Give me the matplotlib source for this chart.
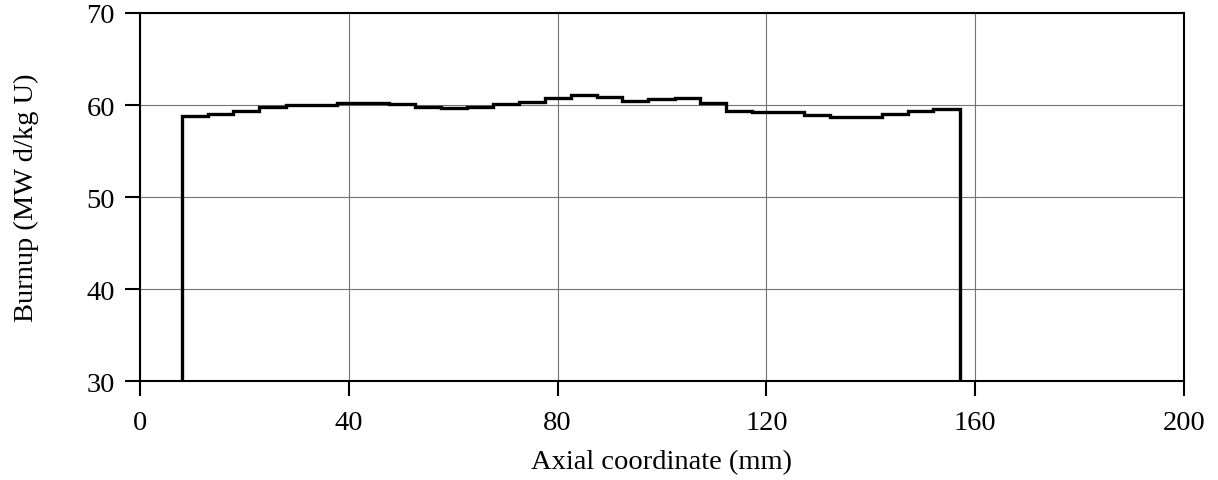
import matplotlib.pyplot as plt

# axial burnup profile, one value per pellet-stack segment
edges = [8.0, 13.0, 17.9, 22.9, 27.9, 32.8, 37.8, 42.8, 47.7, 52.7, 57.7,
         62.6, 67.6, 72.6, 77.5, 82.5, 87.5, 92.4, 97.4, 102.4, 107.3,
         112.3, 117.3, 122.2, 127.2, 132.2, 137.1, 142.1, 147.1, 152.0, 157.0]
burnup = [58.8, 59.05, 59.4, 59.8, 60.0, 60.03, 60.18, 60.25, 60.07, 59.75,
          59.67, 59.75, 60.1, 60.33, 60.76, 61.1, 60.84, 60.47, 60.62, 60.76,
          60.22, 59.38, 59.24, 59.24, 58.95, 58.73, 58.73, 59.0, 59.3, 59.6]

x_ticks = [0, 40, 80, 120, 160, 200]
y_ticks = [30, 40, 50, 60, 70]

plt.rcParams['font.family'] = 'Liberation Serif'
plt.rcParams['font.size'] = 20.5

fig = plt.figure(figsize=(12.18, 4.81), dpi=100)
ax = fig.add_axes([0.1149, 0.2058, 0.8572, 0.7651])

ax.stairs(burnup, edges, baseline=30, color='black', linewidth=2.4)

ax.set_xlim(0, 200)
ax.set_ylim(30, 70)
ax.set_xticks(x_ticks)
ax.set_yticks(y_ticks)
ax.grid(True, color='0.45', linewidth=0.8)
ax.set_axisbelow(True)

for s in ax.spines.values():
    s.set_linewidth(1.5)
ax.tick_params(direction='out', length=11, width=1.5)
ax.tick_params(axis='x', pad=10)
ax.tick_params(axis='y', pad=7)

ax.set_xlabel('Axial coordinate (mm)', labelpad=10)
ax.set_ylabel('Burnup (MW d/kg U)', labelpad=34)

fig.savefig('out.png', dpi=100)
